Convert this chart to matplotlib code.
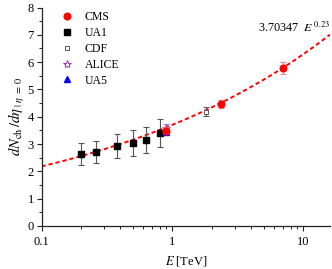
import numpy as np
import matplotlib
matplotlib.use("Agg")
import matplotlib.pyplot as plt
from matplotlib.lines import Line2D

plt.rcParams['font.family'] = ['Liberation Serif', 'DejaVu Serif']
plt.rcParams['mathtext.fontset'] = 'stix'

# Data (E in TeV, dN/deta at eta=0)
cms_E = [0.9, 2.36, 7.0]
cms_y = [3.48, 4.47, 5.78]
cms_err = [0.13, 0.15, 0.22]

ua1_E = [0.2, 0.26, 0.38, 0.5, 0.63, 0.8]
ua1_y = [2.65, 2.70, 2.93, 3.04, 3.14, 3.40]
ua1_err = [0.40, 0.41, 0.45, 0.46, 0.48, 0.51]

cdf_E = [1.8]
cdf_y = [4.19]
cdf_err = [0.18]

alice_E = [0.9]
alice_y = [3.58]
alice_err = [0.14]

ua5_E = [0.9]
ua5_y = [3.43]
ua5_err = [0.05]

fit_coef = 3.70347
fit_exp = 0.23

fig = plt.figure(figsize=(3.32, 2.69), dpi=100)
ax = fig.add_axes([0.125, 0.16, 0.869, 0.812])

Efit = np.logspace(-1, np.log10(16), 200)
ax.plot(Efit, fit_coef * Efit ** fit_exp, color='red', lw=1.4,
        dashes=(2.2, 1.5), zorder=2)

eb = dict(elinewidth=0.8, capsize=2.2, capthick=0.8)
ax.errorbar(ua1_E, ua1_y, yerr=ua1_err, fmt='s', color='black', ms=4.6,
            ecolor='#555555', zorder=3, **eb)
ax.errorbar(cdf_E, cdf_y, yerr=cdf_err, fmt='s', mfc='white', mec='#555555',
            mew=0.7, ms=3.5, ecolor='#555555', zorder=3, **eb)
ax.errorbar(alice_E, alice_y, yerr=alice_err, fmt='*', mfc='none',
            mec='#9933aa', mew=0.7, ms=6, ecolor='#bb66cc', zorder=4, **eb)
ax.errorbar(ua5_E, ua5_y, yerr=ua5_err, fmt='^', color='blue', ms=4.3,
            ecolor='blue', zorder=4, **eb)
ax.errorbar(cms_E, cms_y, yerr=cms_err, fmt='o', color='red', ms=4.8,
            ecolor='#ee8888', zorder=5, **eb)

ax.set_xscale('log')
ax.set_xlim(0.1, 16)
ax.set_ylim(0, 8)
ax.set_xticks([0.1, 1, 10])
ax.set_xticklabels(['0.1', '1', '10'])
ax.set_yticks(range(0, 9))
ax.set_yticks(np.arange(0.5, 8, 1.0), minor=True)

for s in ['top', 'right']:
    ax.spines[s].set_visible(False)
for s in ['left', 'bottom']:
    ax.spines[s].set_linewidth(0.9)
    ax.spines[s].set_color('#222222')

ax.tick_params(axis='both', which='major', direction='out', length=3.5,
               width=0.8, labelsize=9, pad=2, colors='#222222',
               labelcolor='black')
ax.tick_params(axis='both', which='minor', direction='out', length=2,
               width=0.7, colors='#222222')
ax.tick_params(axis='x', which='major', pad=4)

ax.set_xlabel(r'$E$ [TeV]', fontsize=9, labelpad=4)
ax.set_ylabel(r'$dN_{\rm ch}\,/d\eta_{\;|\;\eta\;=\;0}$', fontsize=10.5,
              labelpad=0)

ax.text(1.0, 0.905, r'3.70347  $E^{\,0.23}$', transform=ax.transAxes,
        ha='right', va='center', fontsize=8.8)

proxies = [
    Line2D([], [], ls='none', marker='o', color='red', ms=4.8),
    Line2D([], [], ls='none', marker='s', color='black', ms=4.6),
    Line2D([], [], ls='none', marker='s', mfc='white', mec='#555555', mew=0.7, ms=3.5),
    Line2D([], [], ls='none', marker='*', mfc='none', mec='#9933aa', mew=0.7, ms=6),
    Line2D([], [], ls='none', marker='^', color='blue', ms=4.3),
]
ax.legend(proxies, ['CMS', 'UA1', 'CDF', 'ALICE', 'UA5'],
          loc='upper left', bbox_to_anchor=(0.068, 0.982), frameon=False,
          fontsize=8.5, handlelength=1.0, handletextpad=1.0,
          labelspacing=0.32, borderaxespad=0, borderpad=0)

fig.savefig('out.png', dpi=100)
